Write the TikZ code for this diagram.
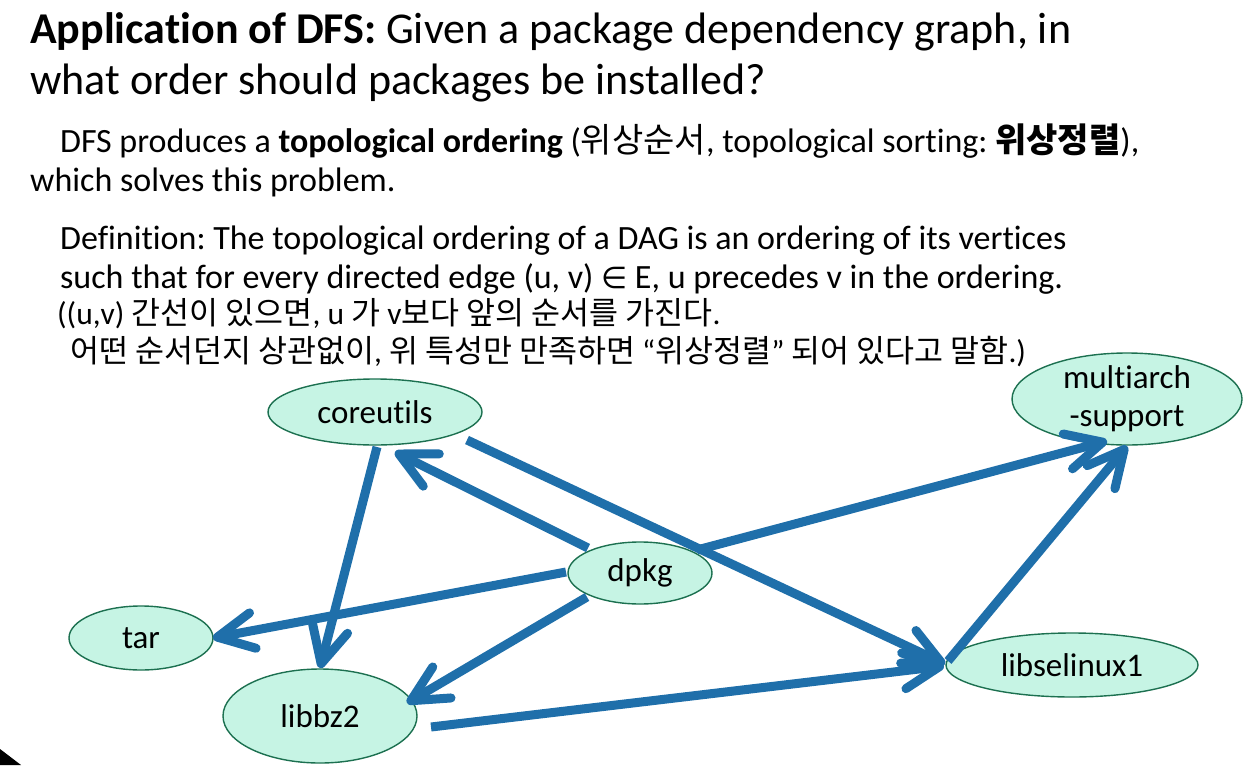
\documentclass[tikz,border=0pt]{standalone}
\usepackage{fontspec}
\setmainfont{Carlito}[Ligatures=NoCommon]
\newfontfamily\kr{Noto Sans CJK KR}
\newfontfamily\symf{DejaVu Sans}
\usetikzlibrary{arrows.meta,calc,shapes.geometric}

\definecolor{edgeblue}{RGB}{31,111,170}
\definecolor{nodefill}{RGB}{198,244,228}
\definecolor{nodeline}{RGB}{28,112,80}

\begin{document}
\frenchspacing
\begin{tikzpicture}[x=1pt,y=-1pt,
  pkg/.style={ellipse, draw=nodeline, fill=nodefill, line width=1.4pt,
    inner sep=-8pt, align=center, font=\fontsize{33}{38}\selectfont},
  dep/.style={draw=edgeblue, line width=9pt,
    -{Straight Barb[length=36pt,width=36pt,round]}},
  txt/.style={anchor=base west, inner sep=0pt},
  titletxt/.style={txt, font=\fontsize{44}{50}\selectfont},
  bodytxt/.style={txt, font=\fontsize{34}{39}\selectfont},
  smalltxt/.style={txt, font=\fontsize{31.5}{36}\selectfont}]

\path[use as bounding box] (0,0) rectangle (1249,765);

% heading and explanatory text
\node[titletxt] (title1) at (30,44) {\textbf{Application of DFS:} Given a package dependency graph, in};
\node[titletxt] (title2) at (30,95) {what order should packages be installed?};
\node[bodytxt] (intro1) at (60,152) {DFS produces a \textbf{topological ordering} ({\kr 위상순서}, topological sorting: {\kr\bfseries 위상정렬}),};
\node[bodytxt] (intro2) at (30,191) {which solves this problem.};
\node[bodytxt] (def1) at (60,249) {Definition: The topological ordering of a DAG is an ordering of its vertices};
\node[bodytxt] (def2) at (60,288) {such that for every directed edge (u, v) {\symf\fontsize{30}{36}\selectfont ∈} E, u precedes v in the ordering.};
\node[smalltxt] (note1) at (57,324) {((u,v) {\kr 간선이 있으면}, u {\kr 가} v{\kr 보다 앞의 순서를 가진다}.};
\node[smalltxt] (note2) at (70,362) {{\kr 어떤 순서던지 상관없이}, {\kr 위 특성만 만족하면} “{\kr 위상정렬}” {\kr 되어 있다고 말함}.)};

% package nodes
\node[pkg, minimum width=214pt, minimum height=66pt] (coreutils) at (375,412) {coreutils};
\node[pkg, minimum width=230pt, minimum height=92pt] (multiarch) at (1127,399) {multiarch\\-support};
\node[pkg, minimum width=144pt, minimum height=62pt] (dpkg) at (640,573) {dpkg};
\node[pkg, minimum width=144pt, minimum height=64pt] (tar) at (141,638) {tar};
\node[pkg, minimum width=194pt, minimum height=94pt] (libbz2) at (320,716) {libbz2};
\node[pkg, minimum width=252pt, minimum height=64pt] (libselinux1) at (1072,665) {libselinux1};

% dependency edges
\draw[dep] ($(dpkg)+(-52,-25)$) -- ($(coreutils)+(20,40)$);
\draw[dep] ($(coreutils)+(92,28)$) -- ($(libselinux1)+(-127,-1)$);
\draw[dep] ($(coreutils)+(2,35)$) -- ($(libbz2)+(0,-48)$);
\draw[dep] ($(dpkg)+(-74,-1)$) -- ($(tar)+(72,0)$);
\draw[dep] ($(dpkg)+(-53,24)$) -- ($(libbz2)+(87,-13)$);
\draw[dep] ($(libbz2)+(111,11)$) -- ($(libselinux1)+(-128,1)$);
\draw[dep] ($(dpkg)+(57,-23)$) -- ($(multiarch)+(-20,42)$);
\draw[dep] ($(libselinux1)+(-124,-4)$) -- ($(multiarch)+(0,47)$);

% slide corner
\fill[black] (0,749) -- (21,765) -- (0,765) -- cycle;
\end{tikzpicture}
\end{document}
